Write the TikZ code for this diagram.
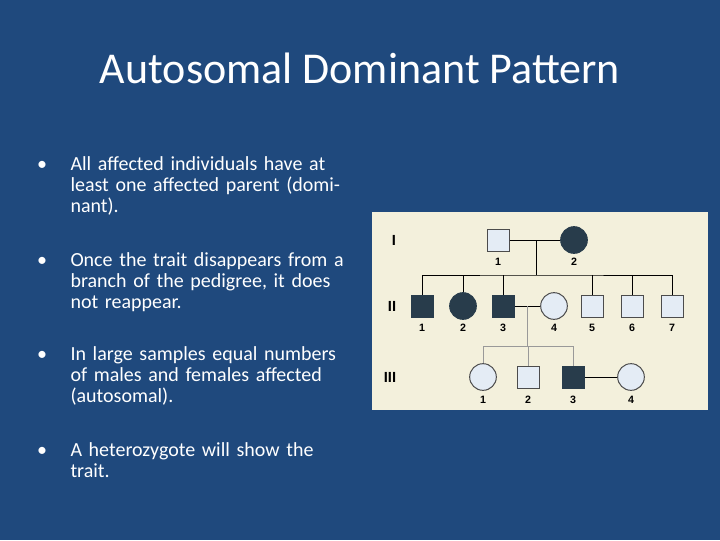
\documentclass[tikz,border=0pt]{standalone}
\usepackage{fontspec}
\setmainfont{Carlito}
\newfontfamily\pedfont{Liberation Sans}
\definecolor{slideblue}{RGB}{31,73,125}
\definecolor{panel}{RGB}{243,240,220}
\definecolor{hit}{RGB}{40,60,75}
\definecolor{clear}{RGB}{228,236,245}
\tikzset{every picture/.style={line width=0.75pt}}
\tikzset{
  male/.style={draw=black!70,fill=clear,minimum size=16.5pt,inner sep=0pt},
  female/.style={circle,draw=black!70,fill=clear,minimum size=20pt,inner sep=0pt},
  hitm/.style={male,fill=hit,draw=hit},
  hitf/.style={female,fill=hit,draw=hit},
  num/.style={font=\pedfont\bfseries\fontsize{8}{8}\selectfont,text=black},
  gen/.style={font=\pedfont\bfseries\fontsize{11}{11}\selectfont,text=black},
  bul/.style={anchor=north west,inner sep=0pt,align=left,text width=210pt,text=white,font=\fontsize{15}{15.75}\selectfont},
}
\begin{document}
\begin{tikzpicture}[x=0.75pt,y=0.75pt,yscale=-1,xscale=1]
    \fill [slideblue] (0,0) rectangle (720,540);
    \useasboundingbox (0,0) rectangle (720,540);

    % Title
    \node (title) at (360,68) [text=white,font=\fontsize{33}{33}\selectfont] {Autosomal Dominant Pattern};

    % Bullets
    \node (d1) at (42,166) [text=white,font=\fontsize{15}{15}\selectfont] {•};
    \node (b1) at (70,156) [bul] {All affected individuals have at least one affected parent (dominant).};
    \node (d2) at (42,262) [text=white,font=\fontsize{15}{15}\selectfont] {•};
    \node (b2) at (70,252) [bul] {Once the trait disappears from a branch of the pedigree, it does not reappear.};
    \node (d3) at (42,356) [text=white,font=\fontsize{15}{15}\selectfont] {•};
    \node (b3) at (70,346) [bul] {In large samples equal numbers of males and females affected (autosomal).};
    \node (d4) at (42,452) [text=white,font=\fontsize{15}{15}\selectfont] {•};
    \node (b4) at (70,442) [bul] {A heterozygote will show the trait.};

    % Pedigree panel
    \fill [panel] (372,212) rectangle (708,410);
    \node (gI) at (394,240) [gen] {I};
    \node (gII) at (392,306) [gen] {II};
    \node (gIII) at (390,377) [gen] {III};

    % Generation I
    \node (i1) at (498,240) [male] {};
    \node (i2) at (574,240) [hitf] {};
    \coordinate (mI) at (536,240);
    \coordinate (sI) at (536,275);

    % Generation II
    \node (ii1) at (422,306) [hitm] {};
    \node (ii2) at (463,306) [hitf] {};
    \node (ii3) at (503,306) [hitm] {};
    \node (ii4) at (554,306) [female] {};
    \node (ii5) at (592,306) [male] {};
    \node (ii6) at (632,306) [male] {};
    \node (ii7) at (672,306) [male] {};
    \coordinate (mII) at (527,306);
    \coordinate (sII) at (527,346);

    % Generation III
    \node (iii1) at (483,377) [female] {};
    \node (iii2) at (528,377) [male] {};
    \node (iii3) at (573,377) [hitm] {};
    \node (iii4) at (631,377) [female] {};

    % Connectors
    \draw (i1) -- (i2);
    \draw (mI) -- (sI);
    \draw (ii1.north) |- (sI) -| (ii7.north);
    \foreach \k in {2,3,5,6} \draw (ii\k.north) -- (ii\k.north |- sI);
    \draw (ii3) -- (ii4);
    \draw [black!40] (mII) -- (sII);
    \draw [black!40] (iii1.north) |- (sII) -| (iii3.north);
    \draw [black!40] (iii2.north) -- (iii2.north |- sII);
    \draw (iii3) -- (iii4);

    % Numbers
    \node (n11) at (498,262) [num] {1};
    \node (n12) at (574,262) [num] {2};
    \foreach \k/\x in {1/422,2/463,3/503,4/554,5/592,6/632,7/672}
      \node (n2\k) at (\x,328) [num] {\k};
    \foreach \k/\x in {1/483,2/528,3/573,4/631}
      \node (n3\k) at (\x,400) [num] {\k};
\end{tikzpicture}
\end{document}
